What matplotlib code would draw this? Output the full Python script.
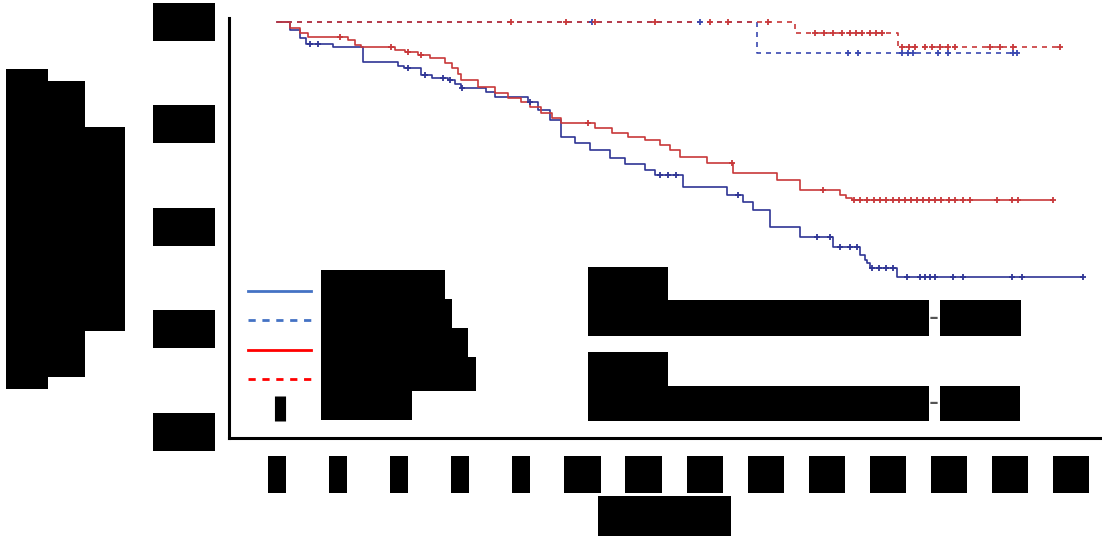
import numpy as np
import matplotlib.pyplot as plt
from matplotlib.lines import Line2D
from matplotlib.path import Path

# Kaplan-Meier step curves (time in years, survival)
blue_os_t = [0, 0.43, 0.75, 0.95, 1.83, 2.82, 3.96, 4.16, 4.71, 5.07, 5.60, 5.83, 6.02, 6.84, 7.14,
             8.22, 8.54, 8.94, 9.30, 9.75, 10.25, 10.90, 11.39, 12.05, 12.37, 13.29, 14.73, 15.25,
             15.58, 16.14, 17.12, 18.20, 19.08, 19.25, 19.31, 19.41, 20.29, 26.38]
blue_os_s = [1.0, 0.984, 0.969, 0.957, 0.951, 0.922, 0.914, 0.910, 0.897, 0.891, 0.887, 0.879, 0.871,
             0.863, 0.854, 0.844, 0.828, 0.809, 0.776, 0.764, 0.750, 0.735, 0.723, 0.711, 0.701,
             0.678, 0.662, 0.649, 0.633, 0.600, 0.580, 0.561, 0.545, 0.536, 0.530, 0.520, 0.502, 0.502]
blue_os_cens = [1.08, 1.34, 4.29, 4.84, 5.43, 5.66, 6.06, 8.28, 12.54, 12.80, 13.06, 15.09, 17.68,
                18.10, 18.43, 18.76, 18.99, 19.48, 19.71, 19.93, 20.16, 20.62, 21.05, 21.21, 21.37,
                21.54, 22.13, 22.45, 24.06, 24.39, 26.38]

red_os_t = [0, 0.43, 0.75, 1.01, 2.32, 2.55, 2.75, 3.86, 4.19, 4.62, 5.01, 5.50, 5.73, 5.92, 6.02,
            6.58, 7.14, 7.56, 7.99, 8.28, 8.64, 9.00, 9.30, 10.41, 10.97, 11.49, 12.05, 12.54, 12.86,
            13.19, 14.08, 14.93, 16.37, 17.12, 18.43, 18.63, 18.82, 25.40]
red_os_s = [1.0, 0.988, 0.979, 0.971, 0.965, 0.955, 0.951, 0.945, 0.941, 0.936, 0.930, 0.920, 0.910,
            0.899, 0.887, 0.873, 0.861, 0.852, 0.844, 0.834, 0.822, 0.813, 0.803, 0.793, 0.783,
            0.776, 0.770, 0.760, 0.750, 0.737, 0.725, 0.705, 0.692, 0.672, 0.662, 0.657, 0.653, 0.653]
red_os_cens = [2.06, 3.73, 4.29, 4.71, 10.18, 14.89, 17.87, 18.90, 19.10, 19.30, 19.55, 19.75, 19.95,
               20.15, 20.35, 20.55, 20.75, 20.95, 21.15, 21.35, 21.55, 21.75, 22.00, 22.20, 22.45,
               22.70, 23.57, 24.06, 24.26, 25.40]

blue_dss_t = [0, 15.71, 24.22]
blue_dss_s = [1.0, 0.940, 0.940]
blue_dss_cens = [10.31, 13.85, 18.69, 19.02, 20.46, 20.66, 20.82, 21.64, 21.96, 24.09, 24.22]

red_dss_t = [0, 16.96, 20.33, 25.70]
red_dss_s = [1.0, 0.979, 0.951, 0.951]
red_dss_cens = [7.66, 9.46, 10.41, 12.37, 14.17, 14.76, 16.07, 17.61, 17.9, 18.2, 18.5, 18.75,
                18.95, 19.15, 19.4, 19.6, 19.8, 20.46, 20.7, 20.9, 21.2, 21.45, 21.7, 21.95, 22.2,
                23.34, 23.67, 24.09, 25.63]

x_ticks = list(range(0, 27, 2))
y_ticks = [0.2, 0.4, 0.6, 0.8, 1.0]
y_tick_labels = ["0.20", "0.40", "0.60", "0.80", "1.00"]
legend_labels = ["Male, overall", "Male, specific", "Female, overall", "Female, specific", "Censored"]
ylabel_lines = ["Cumulative survival", "probability (OS and", "DSS), by sex"]
ylabel_sizes = [23, 22, 23]
xlabel = "Time (yr)"
stats = [("OS HR", "HR = 1.48 (95% CI: 1.09", "2.01)"),
         ("DS HR", "HR = 2.63 (95% CI: 1.21", "5.72)")]

BLUE = "#2f3595"
RED = "#c8383a"


def box(padx, pad_bottom, pad_top=None):
    # black redaction box, padding as fractions of the font size
    if pad_top is None:
        pad_top = pad_bottom

    def style(x0, y0, width, height, mutation_size):
        px = padx * mutation_size
        xa, xb = x0 - px, x0 + width + px
        ya, yb = y0 - pad_bottom * mutation_size, y0 + height + pad_top * mutation_size
        return Path([(xa, ya), (xb, ya), (xb, yb), (xa, yb), (xa, ya)], closed=True)
    return dict(boxstyle=style, facecolor="black", edgecolor="none")


def at(t, s, x):
    idx = np.searchsorted(t, x, side="right") - 1
    return np.asarray(s)[idx]


fig = plt.figure(figsize=(11.02, 5.36), dpi=100)
ax = fig.add_axes([229 / 1102, 98 / 536, 871 / 1102, 420 / 536])

ax.step(blue_dss_t, blue_dss_s, where="post", color="#3a48b0", lw=1.2, ls=(0, (3, 3)))
ax.step(red_dss_t, red_dss_s, where="post", color=RED, lw=1.2, ls=(0, (3, 3)))
ax.step(blue_os_t, blue_os_s, where="post", color=BLUE, lw=1.2)
ax.step(red_os_t, red_os_s, where="post", color=RED, lw=1.2)

mk = dict(ls="none", marker="+", ms=4, mew=1.3)
ax.plot(blue_dss_cens, at(blue_dss_t, blue_dss_s, blue_dss_cens), color="#3a48b0", **mk)
ax.plot(red_dss_cens, at(red_dss_t, red_dss_s, red_dss_cens), color=RED, **mk)
ax.plot(blue_os_cens, at(blue_os_t, blue_os_s, blue_os_cens), color=BLUE, **mk)
ax.plot(red_os_cens, at(red_os_t, red_os_s, red_os_cens), color=RED, **mk)

ax.set_xlim(-1.57, 26.94)
ax.set_ylim(0.188, 1.008)
ax.spines["top"].set_visible(False)
ax.spines["right"].set_visible(False)
ax.spines["left"].set_linewidth(2.2)
ax.spines["bottom"].set_linewidth(2.2)
ax.tick_params(length=0)
ax.set_xticks(x_ticks)
ax.set_xticklabels([str(v) for v in x_ticks], fontsize=20.5, bbox=box(0, 0.16))
ax.set_yticks(y_ticks)
ax.set_yticklabels(y_tick_labels, fontsize=20, bbox=box(0, 0.07, 0.29))
ax.tick_params(axis="x", pad=16)
ax.tick_params(axis="y", pad=10)
ax.set_xlabel(xlabel, fontsize=21, bbox=box(0, 0.22), labelpad=10.5)

handles = [Line2D([], [], color="#4472c4", lw=2),
           Line2D([], [], color="#4472c4", lw=2, ls=(0, (2.6, 2.4))),
           Line2D([], [], color="#ff0000", lw=2),
           Line2D([], [], color="#ff0000", lw=2, ls=(0, (2.6, 2.4))),
           Line2D([], [], color="black", ls="none", marker="|", ms=18, mew=8)]
leg = ax.legend(handles, legend_labels, loc="upper left", bbox_to_anchor=(0.0218, 0.369),
                frameon=False, fontsize=13.9, handlelength=3.27, handletextpad=0.52,
                labelspacing=0.53, borderpad=0, borderaxespad=0)
for t in leg.get_texts():
    t.set_bbox(box(0.02, 0.08, 0.69))

for i, line in enumerate(ylabel_lines):
    fig.text((27 + 38.5 * i) / 1102, 1 - 229 / 536, line, rotation=90, ha="center",
             va="center", fontsize=ylabel_sizes[i], bbox=box(0.02, 0.16))

for i, (head, body, tail) in enumerate(stats):
    y0 = 283.5 + 85.5 * i
    fig.text(588 / 1102, 1 - y0 / 536, head, ha="left", va="center", fontsize=18,
             bbox=box(0, 0.2))
    fig.text(588 / 1102, 1 - (y0 + 34.5) / 536, body, ha="left", va="center", fontsize=20,
             bbox=box(0, 0.13))
    fig.text(933.5 / 1102, 1 - (y0 + 34.5) / 536, "-", ha="center", va="center", fontsize=20,
             color="#555555")
    fig.text(944 / 1102, 1 - (y0 + 34.5) / 536, tail, ha="left", va="center", fontsize=20,
             bbox=box(0.14, 0.13))

fig.savefig("out.png", dpi=100)
